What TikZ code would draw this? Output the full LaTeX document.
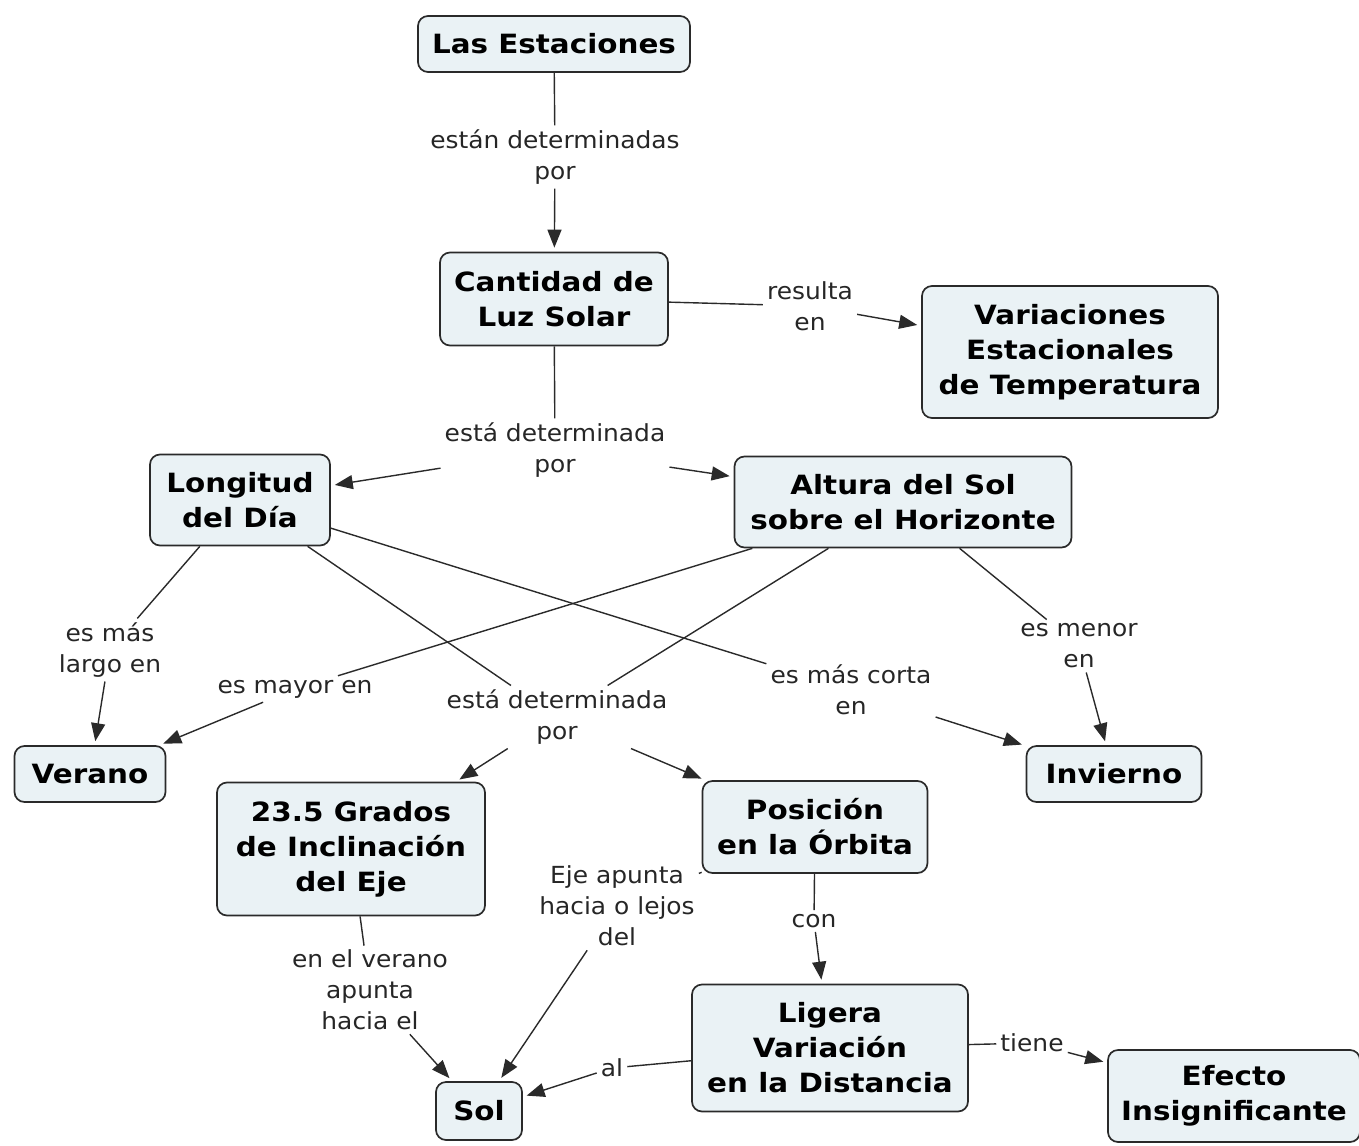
\documentclass[tikz,border=0pt]{standalone}
\usepackage{fontspec}
\setmainfont{DejaVu Sans}
\newfontfamily\cfont{DejaVu Sans Bold}[FakeStretch=1.11]
\newfontfamily\lfont{DejaVu Sans}[FakeStretch=1.06]
\usetikzlibrary{arrows.meta}
\definecolor{cfill}{HTML}{EAF2F5}
\definecolor{cline}{HTML}{2A2A2A}
\tikzset{
  concept/.style={draw=cline, line width=1.7pt, rounded corners=10pt, fill=cfill,
    font=\cfont\fontsize{26.5}{35}\selectfont, align=center, inner sep=0pt},
  lab/.style={font=\lfont\fontsize{23.5}{31}\selectfont, align=center, inner sep=4pt, text=black!85},
  conn/.style={draw=cline, line width=1.4pt},
  arr/.style={conn, -{Triangle[length=18pt,width=14pt]}, shorten >=4pt}
}
\begin{document}
\begin{tikzpicture}[x=1pt,y=-1pt]
\useasboundingbox (0,0) rectangle (1359,1145);
% concepts
\node[concept, minimum width=272pt, minimum height=56pt] (est) at (554,44) {Las Estaciones};
\node[concept, minimum width=228pt, minimum height=93pt] (cant) at (554,299) {Cantidad de\\Luz Solar};
\node[concept, minimum width=296pt, minimum height=132pt] (var) at (1070,352) {Variaciones\\Estacionales\\de Temperatura};
\node[concept, minimum width=180pt, minimum height=91pt] (lon) at (240,500) {Longitud\\del Día};
\node[concept, minimum width=337pt, minimum height=91pt] (alt) at (903,502) {Altura del Sol\\sobre el Horizonte};
\node[concept, minimum width=151pt, minimum height=56pt] (ver) at (90,774) {Verano};
\node[concept, minimum width=175pt, minimum height=56pt] (inv) at (1114,774) {Invierno};
\node[concept, minimum width=268pt, minimum height=133pt] (gra) at (351,849) {23.5 Grados\\de Inclinación\\del Eje};
\node[concept, minimum width=225pt, minimum height=92pt] (pos) at (815,827) {Posición\\en la Órbita};
\node[concept, minimum width=276pt, minimum height=127pt] (lig) at (830,1048) {Ligera\\Variación\\en la Distancia};
\node[concept, minimum width=86pt, minimum height=58pt] (sol) at (479,1111) {Sol};
\node[concept, minimum width=252pt, minimum height=92pt] (efe) at (1234,1096) {Efecto\\Insignificante};
% linking phrases
\node[lab] (l1) at (555,157) {están determinadas\\por};
\node[lab] (l2) at (810,306) {resulta\\en};
\node[lab] (l3) at (555,450) {está determinada\\por};
\node[lab] (l4) at (110,650) {es más\\largo en};
\node[lab] (l5) at (295,689) {es mayor en};
\node[lab] (l6) at (557,717) {está determinada\\por};
\node[lab] (l7) at (851,690) {es más corta\\en};
\node[lab] (l8) at (1079,646) {es menor\\en};
\node[lab] (l9) at (617,906) {Eje apunta\\hacia o lejos\\del};
\node[lab] (l10) at (814,921) {con};
\node[lab] (l11) at (370,990) {en el verano\\apunta\\hacia el};
\node[lab] (l12) at (612,1068) {al};
\node[lab] (l13) at (1032,1043) {tiene};
% connectors
\draw[conn] (est) -- (l1);
\draw[arr] (l1) -- (cant);
\draw[conn] (cant) -- (l2);
\draw[arr] (l2) -- (var);
\draw[conn] (cant) -- (l3);
\draw[arr] (l3) -- (lon);
\draw[arr] (l3) -- (alt);
\draw[conn] (lon) -- (l4);
\draw[arr] (l4) -- (ver);
\draw[conn] (alt) -- (l5);
\draw[arr] (l5) -- (ver);
\draw[conn] (lon) -- (l7);
\draw[arr] (l7) -- (inv);
\draw[conn] (alt) -- (l8);
\draw[arr] (l8) -- (inv);
\draw[conn] (lon) -- (l6);
\draw[conn] (alt) -- (l6);
\draw[arr] (l6) -- (gra);
\draw[arr] (l6) -- (pos);
\draw[conn] (gra) -- (l11);
\draw[arr] (l11) -- (sol);
\draw[conn] (pos) -- (l9);
\draw[arr] (l9) -- (sol);
\draw[conn] (pos) -- (l10);
\draw[arr] (l10) -- (lig);
\draw[conn] (lig) -- (l12);
\draw[arr] (l12) -- (sol);
\draw[conn] (lig) -- (l13);
\draw[arr] (l13) -- (efe);
\end{tikzpicture}
\end{document}
